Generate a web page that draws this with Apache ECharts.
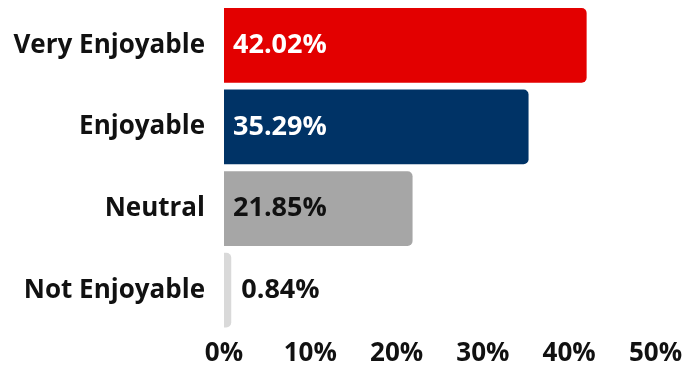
<!DOCTYPE html>
<html>
<head>
<meta charset="utf-8">
<script src="https://cdn.jsdelivr.net/npm/echarts@6/dist/echarts.min.js"></script>
<style>
  html, body { margin: 0; padding: 0; background: #ffffff; }
  #chart { width: 696px; height: 367px; }
</style>
</head>
<body>
<div id="chart"></div>
<script>
// Survey responses: how enjoyable was the experience
const categories = ['Very Enjoyable', 'Enjoyable', 'Neutral', 'Not Enjoyable'];
const shares = [42.02, 35.29, 21.85, 0.84];
const barColors = ['#e30000', '#003366', '#a6a6a6', '#d9d9d9'];
const labelColors = ['#ffffff', '#ffffff', '#111111', '#111111'];
const xTicks = [0, 10, 20, 30, 40, 50];

const FONT = '"Open Sans", "Lato", sans-serif';

const seriesData = shares.map((v, i) => ({
  value: v,
  itemStyle: { color: barColors[i] },
  label: {
    position: v < 5 ? 'right' : 'insideLeft',
    distance: v < 5 ? 10 : 9,
    color: labelColors[i]
  }
}));

const chart = echarts.init(document.getElementById('chart'), null, { renderer: 'canvas' });
chart.setOption({
  animation: false,
  backgroundColor: '#ffffff',
  grid: { left: 224, right: 40.5, top: 4.5, bottom: 34.5, containLabel: false },
  xAxis: {
    type: 'value',
    min: xTicks[0],
    max: xTicks[xTicks.length - 1],
    interval: 10,
    axisLine: { show: false },
    axisTick: { show: false },
    splitLine: { show: false },
    axisLabel: {
      formatter: '{value}%',
      fontFamily: FONT,
      fontWeight: 'bold',
      fontSize: 26,
      color: '#111111',
      margin: 10
    }
  },
  yAxis: {
    type: 'category',
    inverse: true,
    data: categories,
    axisLine: { show: false },
    axisTick: { show: false },
    axisLabel: {
      fontFamily: FONT,
      fontWeight: 'bold',
      fontSize: 26,
      color: '#111111',
      margin: 19
    }
  },
  series: [{
    type: 'bar',
    data: seriesData,
    barCategoryGap: '8.5%',
    itemStyle: { borderRadius: [0, 5, 5, 0] },
    label: {
      show: true,
      formatter: p => p.value.toFixed(2) + '%',
      fontFamily: FONT,
      fontWeight: 'bold',
      fontSize: 27
    }
  }]
});
</script>
</body>
</html>
